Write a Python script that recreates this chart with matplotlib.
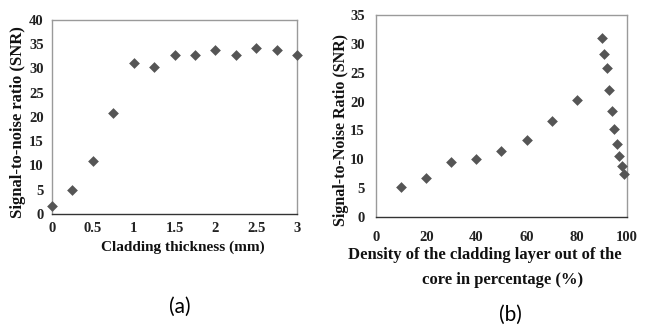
import matplotlib
matplotlib.use("Agg")
import matplotlib.pyplot as plt

# Data (a)
thick = [0, 0.25, 0.5, 0.75, 1.0, 1.25, 1.5, 1.75, 2.0, 2.25, 2.5, 2.75, 3.0]
snr_a = [1.7, 5.0, 10.9, 20.9, 31.2, 30.3, 32.8, 32.8, 33.8, 32.8, 34.3, 33.9, 32.7]
# Data (b)
density = [10, 20, 30, 40, 50, 60, 70, 80, 90, 91, 92, 93, 94, 95, 96, 97, 98, 99]
snr_b = [5.2, 6.7, 9.6, 10.1, 11.5, 13.3, 16.7, 20.2,
         31.1, 28.3, 25.8, 22.0, 18.3, 15.2, 12.7, 10.5, 8.9, 7.4]

xt_a = [0, 0.5, 1, 1.5, 2, 2.5, 3]
xtl_a = ["0", "0.5", "1", "1.5", "2", "2.5", "3"]
yt_a = list(range(0, 41, 5))
xt_b = list(range(0, 101, 20))
yt_b = list(range(0, 36, 5))

serif = ["Liberation Serif", "DejaVu Serif"]
W, H = 646, 325
fig = plt.figure(figsize=(W / 100, H / 100), dpi=100)

def ax_rect(l, r, t, b):
    return [l / W, 1 - b / H, (r - l) / W, (b - t) / H]

def ftext(x, y, s, **kw):
    return fig.text(x / W, 1 - y / H, s, ha="center", va="center", **kw)

ax1 = fig.add_axes(ax_rect(52, 297, 20, 214))
ax2 = fig.add_axes(ax_rect(376, 627, 15, 217))

mk = dict(marker="D", s=30, color="#555555", linewidths=0, zorder=3)

for ax in (ax1, ax2):
    for s in ("top", "right", "left"):
        ax.spines[s].set_color("#9a9a9a")
        ax.spines[s].set_linewidth(1.0)
    ax.spines["bottom"].set_color("#333333")
    ax.spines["bottom"].set_linewidth(1.0)

ax1.scatter(thick, snr_a, clip_on=False, **mk)
ax1.set_xlim(0, 3)
ax1.set_ylim(0, 40)
ax1.set_xticks(xt_a)
ax1.set_xticklabels(xtl_a)
ax1.set_yticks(yt_a)
ax1.tick_params(axis="x", length=0, pad=6)
ax1.tick_params(axis="y", length=0, pad=6)

ax2.scatter(density, snr_b, clip_on=False, **mk)
ax2.set_xlim(0, 100)
ax2.set_ylim(0, 35)
ax2.set_xticks(xt_b)
ax2.set_yticks(yt_b)
ax2.tick_params(axis="x", length=0, pad=10)
ax2.tick_params(axis="y", length=0, pad=8)

for ax in (ax1, ax2):
    for lab in ax.get_xticklabels() + ax.get_yticklabels():
        lab.set_family(serif)
        lab.set_fontweight("bold")
        lab.set_fontsize(10.5)
        lab.set_color("#222222")

lbl = dict(family=serif, fontweight="bold", color="#111111")
ftext(183, 247, "Cladding thickness (mm)", fontsize=11, **lbl)
ftext(18, 122, "Signal-to-noise ratio (SNR)", fontsize=12, rotation=90, **lbl)
ftext(485, 255, "Density of the cladding layer out of the", fontsize=12, **lbl)
ftext(503, 280, "core in percentage (%)", fontsize=12, **lbl)
ftext(341, 130, "Signal-to-Noise Ratio (SNR)", fontsize=11.5, rotation=90, **lbl)

ftext(180, 307, "(a)", family=["Lato", "DejaVu Sans"], fontsize=15)
ftext(510, 315, "(b)", family=["Lato", "DejaVu Sans"], fontsize=15)

fig.savefig("out.png", dpi=100)
